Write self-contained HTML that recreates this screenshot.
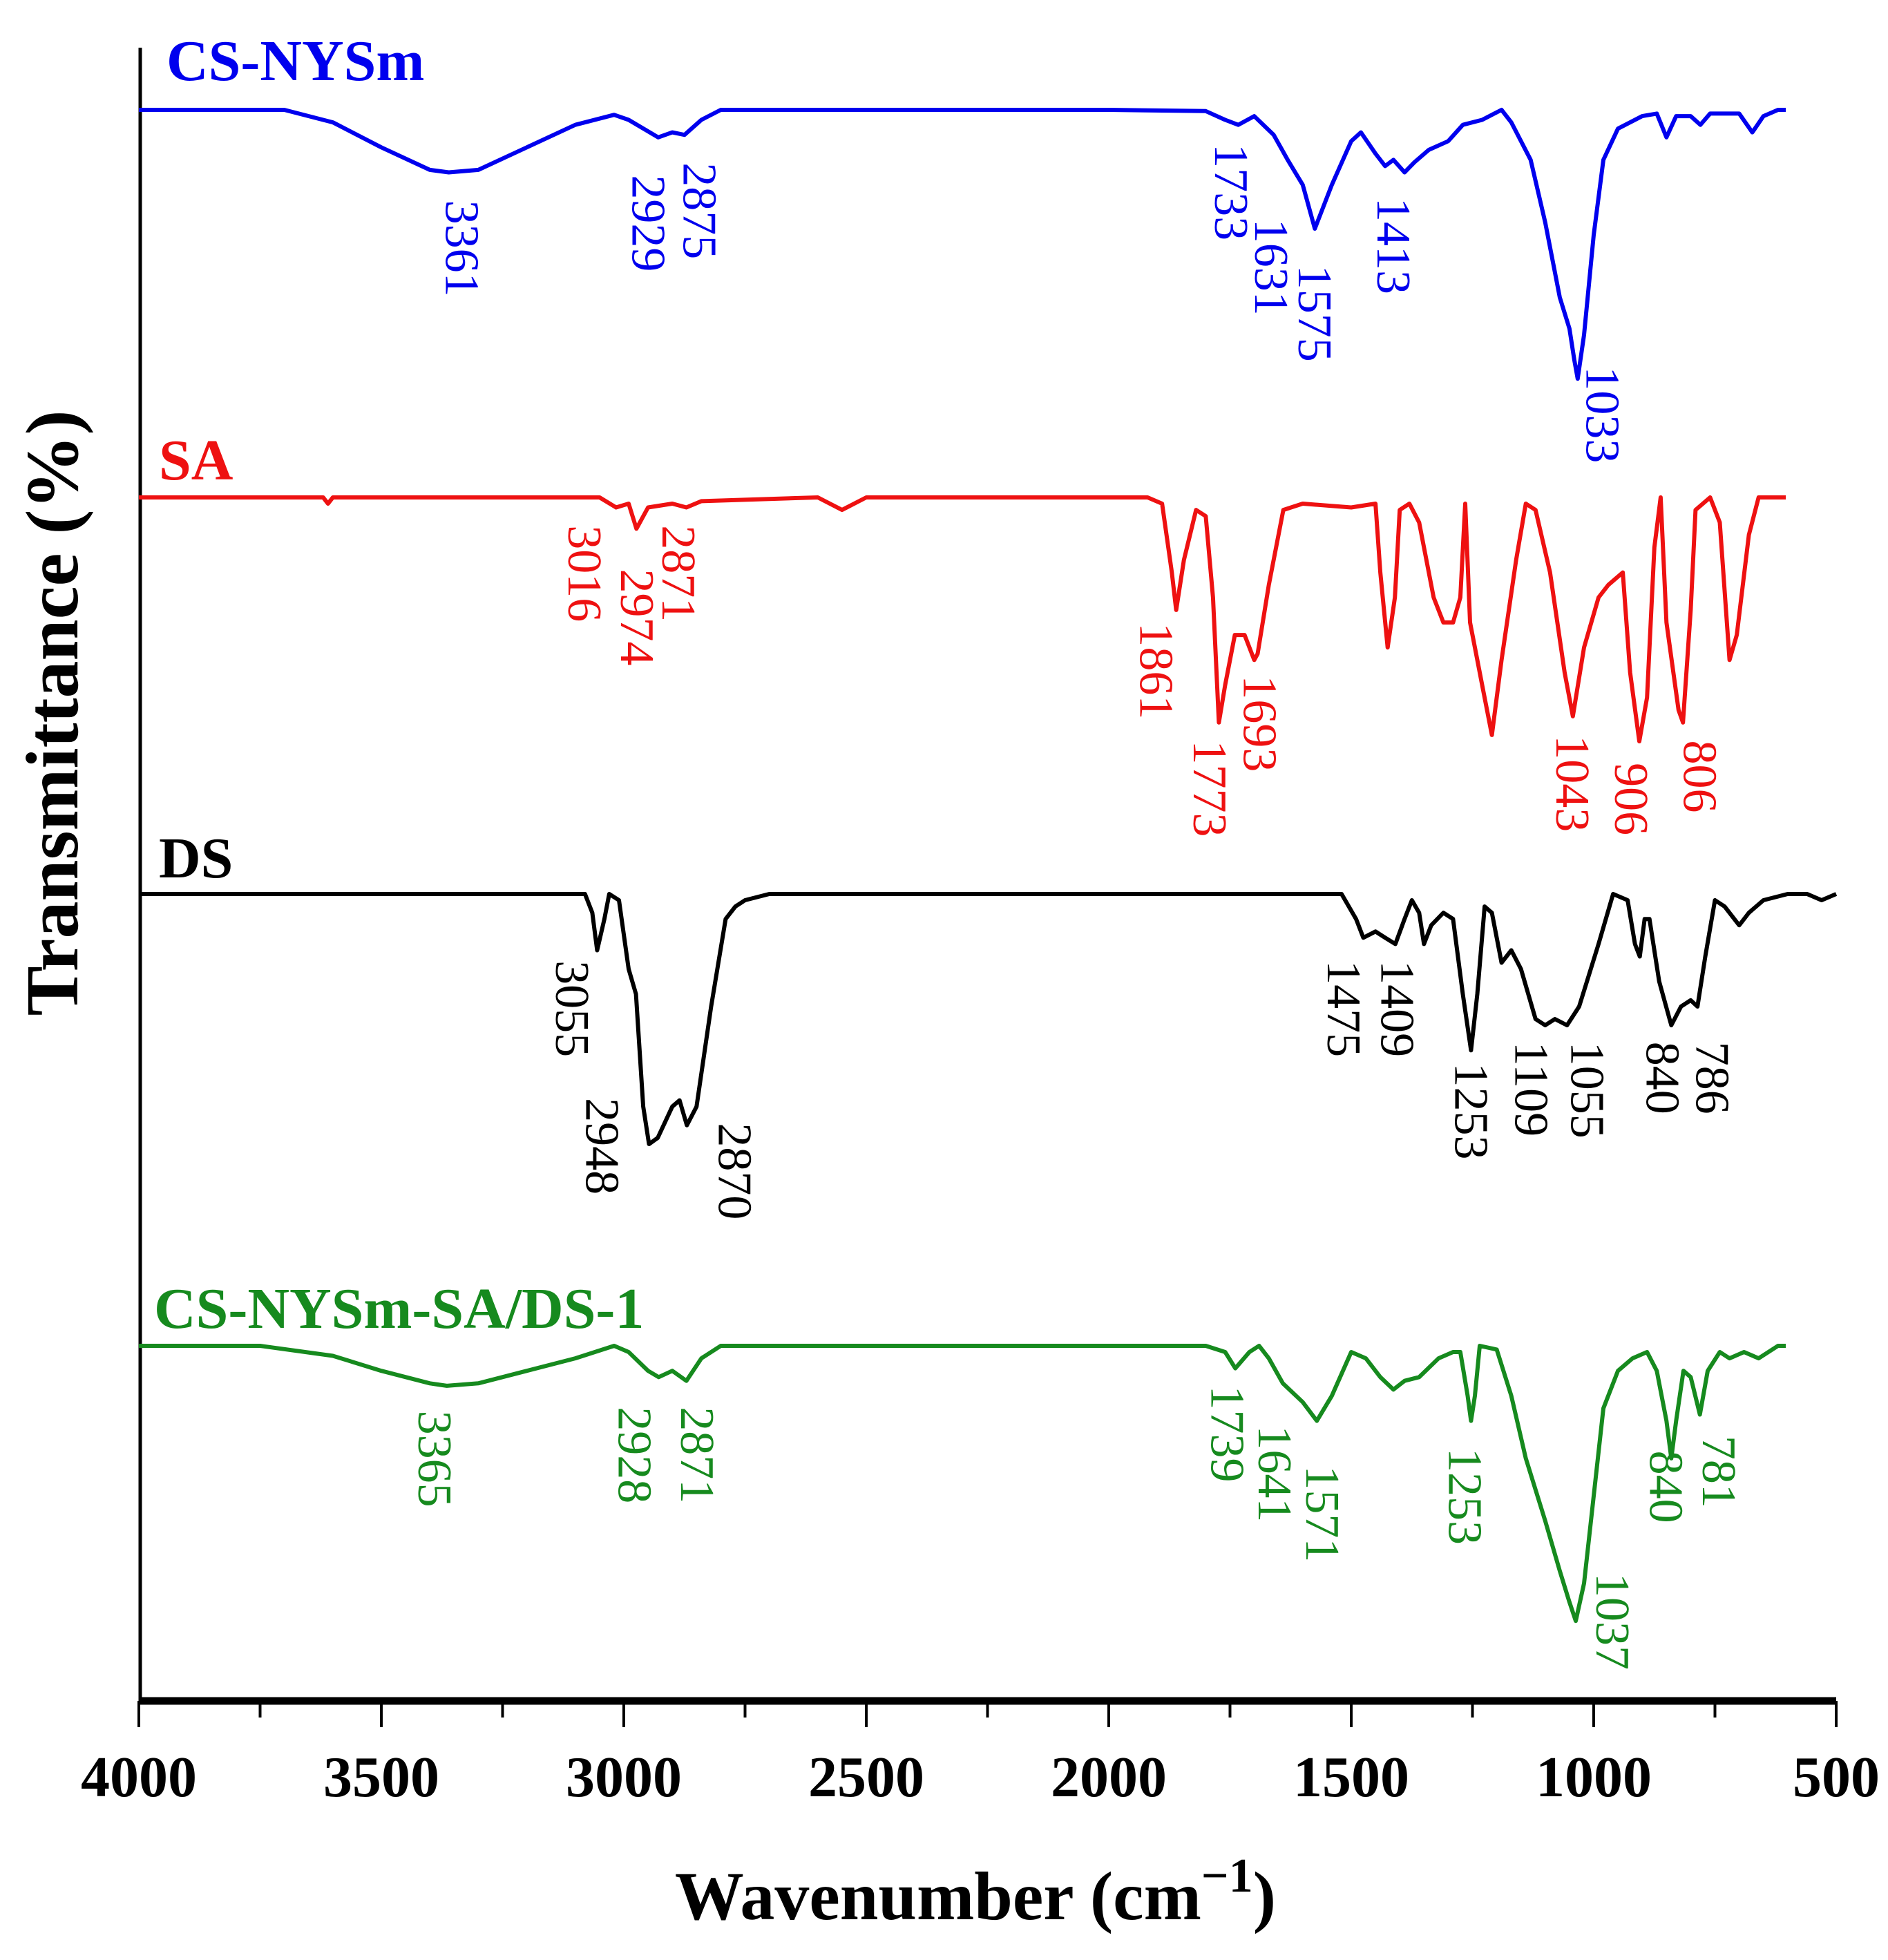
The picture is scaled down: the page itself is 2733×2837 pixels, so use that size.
<!DOCTYPE html>
<html><head><meta charset="utf-8"><style>
html,body{margin:0;padding:0;background:#fff}
svg{display:block}
text{font-family:"Liberation Serif",serif}
</style></head><body>
<svg id="chart" width="2733" height="2837" viewBox="0 0 2733 2837" xmlns="http://www.w3.org/2000/svg">
<g id="axes"></g>
<g id="series"></g>
<g id="labels"></g>
<text transform="translate(112,1032) rotate(-90)" text-anchor="middle" font-size="108" font-weight="bold">Transmittance (%)</text>
<text x="1412" y="2778" text-anchor="middle" font-size="100" font-weight="bold">Wavenumber (cm<tspan font-size="70" dy="-40">−1</tspan><tspan dy="40">)</tspan></text>
</svg>
<script>
// x-axis ticks
const xTicks = [4000, 3500, 3000, 2500, 2000, 1500, 1000, 500];
const xMinorTicks = [3750, 3250, 2750, 2250, 1750, 1250, 750];
// series names / colors / baselines (screen y of flat transmittance)
const seriesNames = ["CS-NYSm", "SA", "DS", "CS-NYSm-SA/DS-1"];
const seriesColors = ["#0000ee", "#ee1111", "#000000", "#168a1e"];
const seriesBase = [159, 720, 1294, 1948];
// spectra: wavenumber arrays and absorption depth (arbitrary units, down from baseline)
const csWn = [4000,3700,3600,3500,3400,3361,3300,3200,3100,3020,2990,2929,2900,2875,2840,2800,2600,2000,1800,1760,1733,1700,1660,1631,1600,1575,1540,1500,1480,1450,1430,1413,1390,1370,1340,1300,1270,1230,1190,1170,1130,1100,1070,1050,1040,1033,1020,1000,980,950,900,870,850,830,800,780,760,700,673,650,620,604];
const csDepth = [0,0,10,30,48,50,48,30,12,4,8,22,18,20,8,0,0,0,1,8,12,5,20,40,60,95,60,25,18,35,45,40,50,42,32,25,12,8,0,10,40,90,150,175,200,215,180,100,40,15,5,3,22,5,5,12,3,3,18,5,0,0];
const saWn = [4000,3620,3610,3600,3050,3016,2990,2974,2950,2900,2871,2840,2600,2550,2500,1920,1890,1870,1861,1845,1820,1800,1785,1773,1760,1740,1720,1700,1693,1670,1640,1600,1500,1450,1440,1425,1410,1400,1380,1360,1330,1310,1290,1275,1265,1255,1230,1210,1190,1160,1140,1120,1090,1060,1043,1020,990,970,940,925,906,890,875,862,850,825,816,800,790,760,740,720,705,680,660,610,604];
const saDepth = [0,0,5,0,0,8,5,25,8,5,8,3,0,10,0,0,5,60,90,50,10,15,80,180,150,110,110,130,125,70,10,5,8,5,60,120,80,10,5,20,80,100,100,80,5,100,150,190,130,50,5,10,60,140,175,120,80,70,60,140,195,160,40,0,100,170,180,90,10,0,20,130,110,30,0,0,0];
const dsWn = [4000,3080,3065,3055,3040,3030,3010,2990,2975,2960,2948,2930,2900,2885,2870,2850,2820,2790,2770,2750,2700,1520,1490,1475,1450,1430,1409,1390,1375,1360,1350,1335,1310,1290,1270,1253,1240,1225,1210,1190,1170,1150,1120,1100,1080,1055,1030,990,960,930,915,905,895,885,865,840,820,800,786,770,750,730,700,680,650,600,560,530,500];
const dsDepth = [0,0,15,45,20,0,5,60,80,170,200,195,170,165,185,170,90,20,10,5,0,0,20,35,30,35,40,20,5,15,40,25,15,20,80,125,80,10,15,55,45,60,100,105,100,105,90,40,0,5,40,50,20,20,70,105,90,85,90,50,5,10,25,15,5,0,0,5,0];
const mixWn = [4000,3750,3600,3500,3400,3365,3300,3200,3100,3020,2990,2950,2928,2900,2871,2840,2800,1800,1760,1739,1710,1690,1670,1641,1600,1571,1540,1500,1470,1440,1413,1390,1360,1320,1290,1275,1260,1253,1245,1235,1200,1170,1140,1100,1070,1050,1037,1020,1000,980,950,920,890,870,850,840,830,815,800,781,765,740,720,690,660,620,604];
const mixDepth = [0,0,8,20,30,32,30,20,10,0,5,20,25,20,28,10,0,0,5,18,5,0,10,30,45,60,40,5,10,25,35,28,25,10,5,5,40,60,40,0,3,40,90,140,180,205,220,190,120,50,20,10,5,20,60,90,60,20,25,55,20,5,10,5,10,0,0];
// peak labels per series
const csPeaks = ["3361","2929","2875","1733","1631","1575","1413","1033"];
const saPeaks = ["3016","2974","2871","1861","1773","1693","1043","906","806"];
const dsPeaks = ["3055","2948","2870","1475","1409","1253","1109","1055","840","786"];
const mixPeaks = ["3365","2928","2871","1739","1641","1571","1253","1037","840","781"];

const NS = "http://www.w3.org/2000/svg";
const S = 1.81;
const X0 = 201, X1 = 2658, AXY = 2462;
function xScale(w){ return X0 + (4000 - w) / 3500 * (X1 - X0); }
function yScale(base, d){ return base + d * S; }
function mk(tag, attrs, parent){ const e = document.createElementNS(NS, tag); for (const k in attrs) e.setAttribute(k, attrs[k]); parent.appendChild(e); return e; }

const axes = document.getElementById('axes');
let yl = mk('line', {x1:203, y1:69, x2:203, y2:AXY, stroke:'#000', 'stroke-width':5}, axes);


let xl = mk('line', {x1:X0, y1:AXY, x2:X1, y2:AXY, stroke:'#000', 'stroke-width':11}, axes);


xTicks.forEach(t => {
  const x = xScale(t);
  const l = mk('line', {x1:x, y1:AXY, x2:x, y2:2500, stroke:'#000', 'stroke-width':4}, axes);
  
  
  const tx = mk('text', {x:x, y:2600, 'text-anchor':'middle', 'font-size':84, 'font-weight':'bold'}, axes);
  tx.textContent = t;
  
  
});
xMinorTicks.forEach(t => {
  const x = xScale(t);
  const l = mk('line', {x1:x, y1:AXY, x2:x, y2:2486, stroke:'#000', 'stroke-width':4}, axes);
  
  
});

const wns = [csWn, saWn, dsWn, mixWn];
const depths = [csDepth, saDepth, dsDepth, mixDepth];
const seriesG = document.getElementById('series');
const nameKeys = ['cs-nysm', 'sa', 'ds', 'cs-nysm-sa-ds-1'];
const namePos = [[241,116],[230,694],[230,1270],[223,1922]];
for (let i = 0; i < 4; i++) {
  const pts = wns[i].map((w, j) => xScale(w).toFixed(1) + ',' + yScale(seriesBase[i], depths[i][j]).toFixed(1)).join(' ');
  const p = mk('polyline', {points:pts, fill:'none', stroke:seriesColors[i], 'stroke-width':6, 'stroke-linejoin':'round'}, seriesG);
  
  
  const t = mk('text', {x:namePos[i][0], y:namePos[i][1], fill:seriesColors[i], 'font-size':84, 'font-weight':'bold'}, seriesG);
  t.textContent = seriesNames[i];
  
  
}

// label placements in display coords [centerX, topY]
const peakLists = [csPeaks, saPeaks, dsPeaks, mixPeaks];
const peakPos = [
  [[370,160],[519,140],[560,130],[985,115],[1017,175],[1052,212],[1115,158],[1282,293]],
  [[468,420],[510,455],[543,420],[925,498],[968,592],[1008,540],[1258,588],[1305,610],[1360,592]],
  [[458,768],[482,878],[588,898],[1075,768],[1118,768],[1177,850],[1225,833],[1270,833],[1330,833],[1370,833]],
  [[348,1128],[508,1125],[558,1125],[982,1108],[1020,1140],[1058,1172],[1172,1158],[1290,1258],[1333,1160],[1375,1148]]
];
const labG = document.getElementById('labels');
for (let i = 0; i < 4; i++) {
  peakLists[i].forEach((lab, j) => {
    const cx = peakPos[i][j][0] * S, ty = peakPos[i][j][1] * S;
    const t = mk('text', {transform:`translate(${cx - 24},${ty}) rotate(90)`, fill:seriesColors[i], 'font-size':70}, labG);
    t.textContent = lab;
    
    
  });
}
</script>
</body></html>
